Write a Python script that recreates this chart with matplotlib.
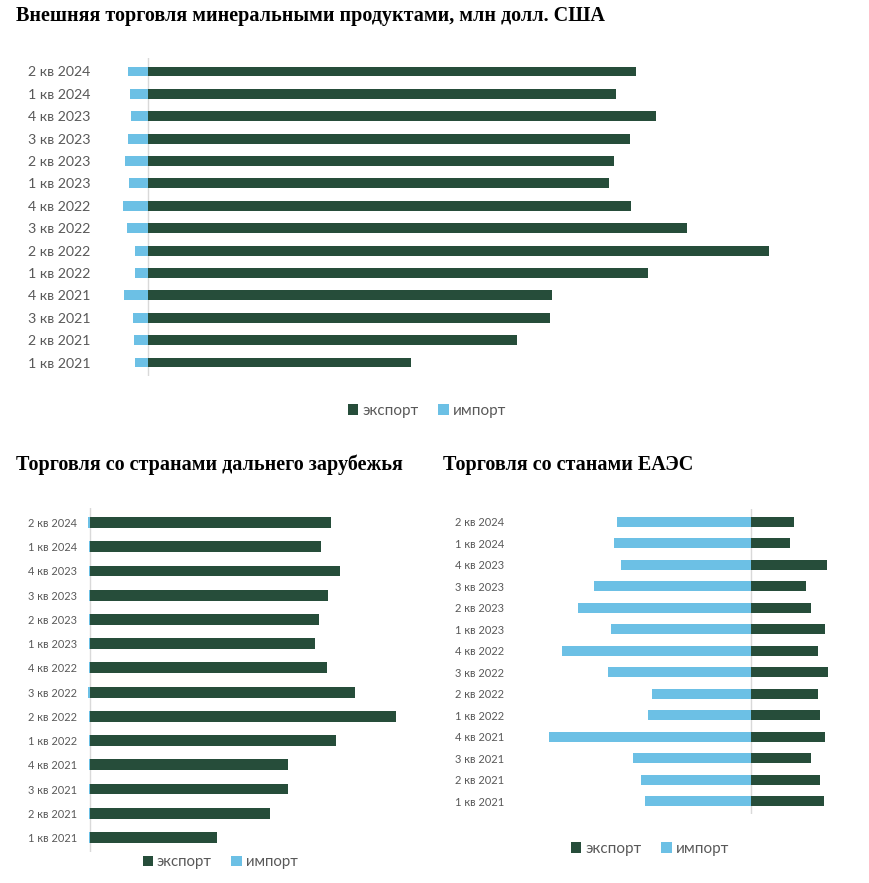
import matplotlib
matplotlib.use("Agg")
import matplotlib.pyplot as plt
from matplotlib.patches import Patch

W, H = 870, 883
DPI = 100

quarters = ["1 кв 2021", "2 кв 2021", "3 кв 2021", "4 кв 2021",
            "1 кв 2022", "2 кв 2022", "3 кв 2022", "4 кв 2022",
            "1 кв 2023", "2 кв 2023", "3 кв 2023", "4 кв 2023",
            "1 кв 2024", "2 кв 2024"]

# Total mineral products trade (relative units)
total_export = [263, 369, 402, 404, 500, 621, 539, 483, 461, 466, 482, 508, 468, 488]
total_import = [13, 14, 15, 24, 13, 13, 21, 25, 19, 23, 20, 17, 18, 20]

# Trade with far-abroad countries
far_export = [127, 180, 198, 198, 246, 306, 265, 237, 225, 229, 238, 250, 231, 241]
far_import = [0.5, 0.5, 0.5, 0.5, 0.5, 0.5, 1.5, 0.5, 0.5, 0.5, 0.5, 0.5, 0.5, 1.5]

# Trade with EAEU countries
eaeu_export = [73, 69, 60, 74, 69, 67, 77, 67, 74, 60, 55, 76, 39, 43]
eaeu_import = [106, 110, 118, 202, 103, 99, 143, 189, 140, 173, 157, 130, 137, 134]

title_main = "Внешняя торговля минеральными продуктами, млн долл. США"
title_far = "Торговля со странами дальнего зарубежья"
title_eaeu = "Торговля со станами ЕАЭС"
legend_labels = ["экспорт", "импорт"]

EXP_C = "#264d3a"
IMP_C = "#6cc0e5"
TXT_C = "#595959"
LINE_C = "#d9d9d9"
LABEL_FONT = ["Lato", "DejaVu Sans"]
TITLE_FONT = ["Liberation Serif", "DejaVu Serif"]

fig = plt.figure(figsize=(W / DPI, H / DPI), dpi=DPI)


def ax_px(left, top, right, bottom):
    return fig.add_axes([left / W, 1 - bottom / H, (right - left) / W, (bottom - top) / H])


def draw_panel(ax, exp, imp, xlim, fsize, bar_h, pad):
    y = list(range(len(quarters)))
    ax.axvline(0, color=LINE_C, lw=1.0, zorder=1)
    ax.barh(y, exp, height=bar_h, color=EXP_C, zorder=2)
    ax.barh(y, [-v for v in imp], height=bar_h, color=IMP_C, zorder=2)
    ax.set_xlim(*xlim)
    ax.set_ylim(-0.6, len(quarters) - 0.4)
    ax.set_yticks(y)
    ax.set_yticklabels(quarters, fontsize=fsize, color=TXT_C, family=LABEL_FONT)
    ax.tick_params(axis="y", length=0, pad=pad)
    ax.set_xticks([])
    for s in ax.spines.values():
        s.set_visible(False)


def add_legend(cx, cy, fsize):
    handles = [Patch(facecolor=EXP_C), Patch(facecolor=IMP_C)]
    leg = fig.legend(handles, legend_labels, loc="center", bbox_to_anchor=(cx / W, 1 - cy / H),
                     ncol=2, frameon=False, handlelength=0.7, handleheight=0.7,
                     handletextpad=0.25, columnspacing=1.3,
                     prop={"family": LABEL_FONT, "size": fsize})
    for t in leg.get_texts():
        t.set_color(TXT_C)


# Top panel
ax1 = ax_px(120, 58, 780, 376)
draw_panel(ax1, total_export, total_import, (-28, 632), 10.2, 0.44, 21.5)
fig.text(16 / W, 1 - 16 / H, title_main, ha="left", va="center", fontsize=14.5,
         fontweight="bold", family=TITLE_FONT)
add_legend(427, 411, 11)

# Bottom-left panel
ax2 = ax_px(88, 508, 420, 852)
draw_panel(ax2, far_export, far_import, (-2, 330), 7.9, 0.45, 8)
fig.text(16 / W, 1 - 465 / H, title_far, ha="left", va="center", fontsize=14.5,
         fontweight="bold", family=TITLE_FONT)
add_legend(220, 862, 10.8)

# Bottom-right panel
ax3 = ax_px(510, 509, 840, 814)
draw_panel(ax3, eaeu_export, eaeu_import, (-241, 89), 8, 0.47, 4.3)
fig.text(443 / W, 1 - 465 / H, title_eaeu, ha="left", va="center", fontsize=14.5,
         fontweight="bold", family=TITLE_FONT)
add_legend(650, 849, 11)

fig.savefig("out.png", dpi=DPI)
